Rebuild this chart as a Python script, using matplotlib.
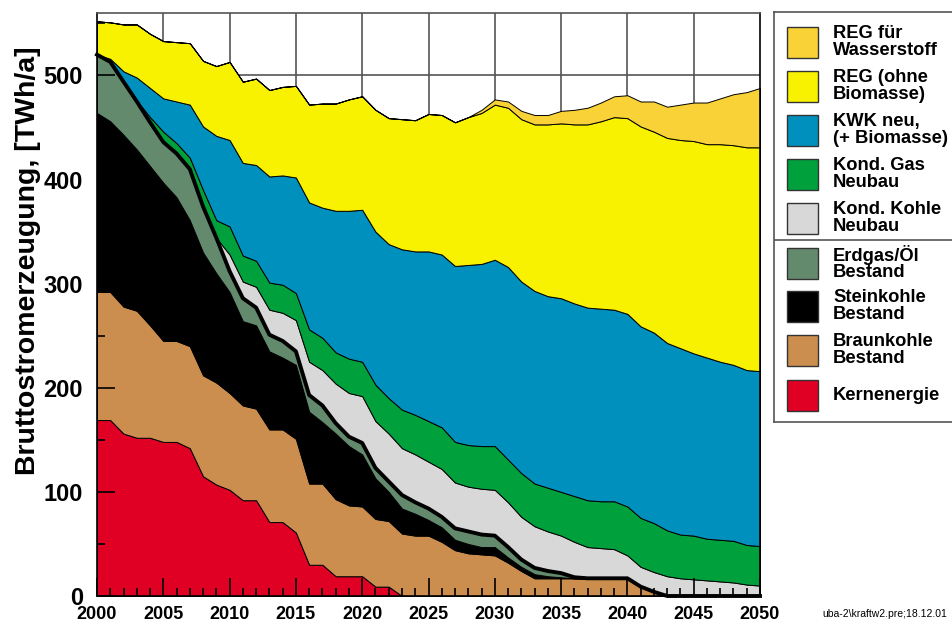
import numpy as np
import matplotlib
matplotlib.use("Agg")
import matplotlib.pyplot as plt
from matplotlib.patches import Rectangle

# Bruttostromerzeugung nach Kraftwerkstyp, TWh/a
years = np.arange(2000, 2051)

kern = [169, 169, 156, 152, 152, 148, 148, 142, 115, 107,
        102, 92, 92, 71, 71, 61, 30, 30, 19, 19,
        19, 9, 9, 0, 0, 0, 0, 0, 0, 0,
        0, 0, 0, 0, 0, 0, 0, 0, 0, 0,
        0, 0, 0, 0, 0, 0, 0, 0, 0, 0,
        0]
braun = [123, 123, 122, 122, 108, 97, 97, 98, 97, 98,
         93, 91, 88, 89, 89, 90, 78, 78, 74, 68,
         67, 65, 63, 60, 58, 58, 52, 44, 41, 40,
         39, 32, 24, 17, 17, 17, 17, 17, 17, 17,
         17, 9, 4, 0, 0, 0, 0, 0, 0, 0,
         0]
stein = [172, 164, 165, 155, 153, 152, 138, 121, 118, 105,
         97, 81, 80, 75, 69, 71, 69, 59, 63, 57,
         50, 39, 28, 24, 21, 15, 14, 10, 9, 7,
         8, 5, 4, 4, 2, 1, 0, 0, 0, 0,
         0, 0, 0, 0, 0, 0, 0, 0, 0, 0,
         0]
erdgas = [56, 57, 51, 46, 42, 39, 42, 49, 44, 34,
          20, 22, 17, 16, 16, 13, 16, 16, 10, 9,
          11, 10, 10, 13, 11, 11, 10, 11, 12, 12,
          11, 10, 7, 6, 5, 4, 1, 0, 0, 0,
          0, 0, 0, 0, 0, 0, 0, 0, 0, 0,
          0]
kohle_neu = [0, 0, 0, 0, 0, 0, 0, 0, 0, 0,
             16, 16, 20, 24, 27, 30, 32, 34, 38, 42,
             45, 45, 46, 45, 46, 45, 46, 44, 43, 44,
             44, 43, 41, 40, 38, 36, 34, 30, 29, 28,
             22, 19, 19, 19, 17, 16, 15, 14, 13, 11,
             10]
gas_neu = [0, 0, 0, 1, 5, 10, 10, 11, 16, 17,
           27, 25, 25, 26, 27, 26, 31, 31, 30, 33,
           33, 35, 34, 37, 38, 39, 40, 39, 40, 41,
           42, 41, 42, 41, 42, 42, 44, 45, 45, 46,
           47, 47, 47, 44, 42, 42, 40, 40, 40, 38,
           38]
kwk = [0, 3, 10, 22, 28, 32, 40, 51, 61, 81,
       83, 89, 92, 102, 105, 111, 122, 125, 136, 142,
       146, 147, 148, 154, 157, 163, 166, 169, 173, 175,
       179, 185, 184, 185, 184, 186, 185, 185, 185, 184,
       185, 184, 183, 180, 179, 175, 174, 171, 169, 168,
       168]
reg = [32, 35, 45, 51, 52, 55, 57, 59, 63, 67,
       75, 78, 83, 83, 85, 88, 94, 100, 103, 107,
       109, 117, 121, 125, 126, 132, 134, 138, 142, 145,
       149, 153, 156, 160, 165, 168, 172, 176, 180, 185,
       188, 192, 193, 197, 200, 204, 205, 209, 211, 214,
       215]
reg_h2 = [0, 0, 0, 0, 0, 0, 0, 0, 0, 0,
          0, 0, 0, 0, 0, 0, 0, 0, 0, 0,
          0, 0, 0, 0, 0, 0, 0, 0, 0, 3,
          5, 6, 8, 9, 9, 12, 14, 16, 18, 20,
          22, 24, 29, 30, 34, 37, 40, 44, 49, 53,
          57]

layers = [kern, braun, stein, erdgas, kohle_neu, gas_neu, kwk, reg, reg_h2]
colors = ['#DF0024', '#CB8E4E', '#000000', '#648A6E', '#D8D8D8',
          '#00A03C', '#0090BE', '#F8F200', '#F8D236']
labels = ['Kernenergie', 'Braunkohle\nBestand', 'Steinkohle\nBestand',
          'Erdgas/Öl\nBestand', 'Kond. Kohle\nNeubau', 'Kond. Gas\nNeubau',
          'KWK neu,\n(+ Biomasse)', 'REG (ohne\nBiomasse)', 'REG für\nWasserstoff']

plt.rcParams['font.family'] = ['Liberation Sans', 'DejaVu Sans']

W, H = 953, 623
fig = plt.figure(figsize=(W / 100, H / 100), dpi=100)
ax = fig.add_axes([97 / W, 27 / H, 663 / W, 583 / H])

# grid under the areas
for x in range(2005, 2050, 5):
    ax.axvline(x, color='#555555', lw=1.2, zorder=0)
for y in range(100, 600, 100):
    ax.axhline(y, color='#555555', lw=1.2, zorder=0)

ax.stackplot(years, layers, colors=colors, edgecolor='black', linewidth=0.7, zorder=1)

# Bestand (existing plants) total as thick line
bestand = np.sum(layers[:4], axis=0)
ax.plot(years, bestand, color='black', lw=2.8, zorder=3, clip_on=False)

ax.set_xlim(2000, 2050)
ax.set_ylim(0, 560)
ax.set_xticks(range(2000, 2051, 5))
ax.set_xticks(range(2000, 2051), minor=True)
ax.set_yticks(range(0, 501, 100))
ax.set_yticks(range(50, 551, 100), minor=True)
ax.tick_params(which='major', direction='in', length=13, width=1.2, color='black')
ax.tick_params(which='minor', direction='in', length=6, width=1.2, color='black')
ax.tick_params(axis='x', labelsize=13, pad=7)
ax.tick_params(axis='y', labelsize=17, pad=10)
for lab in ax.get_xticklabels() + ax.get_yticklabels():
    lab.set_fontweight('bold')
for s in ax.spines.values():
    s.set_linewidth(1.2)
ax.spines['top'].set_color('#555555')

fig.text(28 / W, 1 - 261 / H, 'Bruttostromerzeugung, [TWh/a]', rotation=90,
         ha='center', va='center', fontsize=20.5, fontweight='bold')

# legend box in pixel coordinates
lax = fig.add_axes([774 / W, (H - 422) / H, (W - 774) / W, 410 / H])
lax.set_xlim(774, W)
lax.set_ylim(422, 12)
lax.set_xticks([])
lax.set_yticks([])
lax.spines['right'].set_visible(False)
for s in ['left', 'top', 'bottom']:
    lax.spines[s].set_color('#555555')
    lax.spines[s].set_linewidth(1.2)
lax.axhline(240, color='#555555', lw=1.2)

centers = [395, 350, 306, 263, 218, 174, 130, 86, 42]
for c, col, lab in zip(centers, colors, labels):
    lax.add_patch(Rectangle((787, c - 15.5), 31, 31, facecolor=col,
                            edgecolor='#333333', lw=1))
    lax.text(833, c, lab, ha='left', va='center', fontsize=13.2,
             fontweight='bold', linespacing=0.95)

fig.text(822 / W, 1 - 617 / H, r'uba-2\kraftw2.pre;18.12.01', fontsize=7.5,
         ha='left', va='baseline')

fig.savefig('out.png', dpi=100)
